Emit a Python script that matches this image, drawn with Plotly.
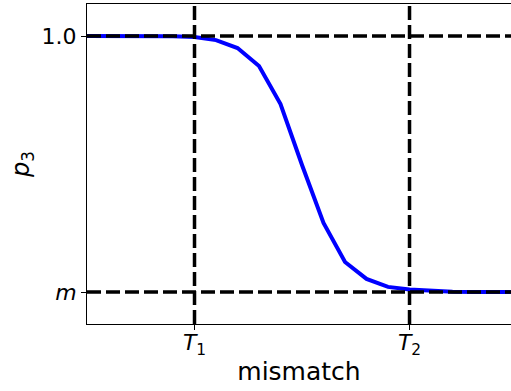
import plotly.graph_objects as go

# mismatch steps (index) and the probability p3 along them
mismatch = list(range(21))
m_level = 0.1
frac = [1.0, 1.0, 1.0, 1.0, 0.999, 0.996, 0.984, 0.953, 0.883, 0.734, 0.496,
        0.27, 0.117, 0.051, 0.02, 0.01, 0.004, 0.001, 0.0, 0.0, 0.0]
p3 = [m_level + (1 - m_level) * f for f in frac]

T1, T2 = 5, 15
y_ticks = [m_level, 1.0]
y_labels = ["<i>m</i>", "1.0"]
x_ticks = [T1, T2]
x_labels = ["<i>T</i><sub>1</sub>", "<i>T</i><sub>2</sub>"]

FONT = "DejaVu Sans"

fig = go.Figure()
fig.add_trace(go.Scatter(
    x=mismatch, y=p3, mode="lines",
    line=dict(color="#0000ff", width=4),
    showlegend=False,
))

dash = dict(color="black", width=3.5, dash="14px,5px")
for yv in y_ticks:
    fig.add_hline(y=yv, line=dash, layer="above")
for xv in x_ticks:
    fig.add_vline(x=xv, line=dash, layer="above")

fig.update_xaxes(
    range=[0, 19.72],
    tickvals=x_ticks, ticktext=x_labels,
    ticks="outside", ticklen=5, tickwidth=1, tickcolor="black",
    ticklabelstandoff=-6,
    showline=True, linecolor="black", linewidth=1, mirror=True,
    showgrid=False, zeroline=False,
    tickfont=dict(family=FONT, size=22, color="black"),
    title=dict(text="mismatch", font=dict(family=FONT, size=25, color="black"), standoff=4),
)
fig.update_yaxes(
    range=[m_level - (1 - m_level) * 0.125, m_level + (1 - m_level) * 1.125],
    tickvals=y_ticks, ticktext=y_labels,
    ticks="outside", ticklen=5, tickwidth=1, tickcolor="black",
    showline=True, linecolor="black", linewidth=1,
    showgrid=False, zeroline=False,
    tickfont=dict(family=FONT, size=22, color="black"),
    title=dict(text="<i>p</i><sub>3</sub>", font=dict(family=FONT, size=24, color="black"), standoff=5),
)

fig.update_layout(
    width=511, height=391,
    margin=dict(l=87, r=0, t=4, b=67, autoexpand=False),
    plot_bgcolor="white", paper_bgcolor="white",
)

fig.write_html("out.html", config={"displayModeBar": False},
               post_script="document.body.style.margin='0';")
